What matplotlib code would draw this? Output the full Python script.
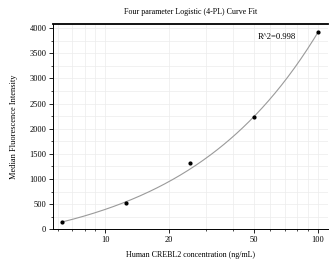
"""
plot.py - 4-PL standard curve for Human CREBL2 (median fluorescence vs concentration).
"""

import numpy as np
import matplotlib
matplotlib.use("Agg")
import matplotlib.pyplot as plt
from matplotlib.ticker import FixedLocator, NullFormatter, MultipleLocator

# ---------------------------------------------------------------------------
# Data
# ---------------------------------------------------------------------------
conc_ng_ml = [6.25, 12.5, 25, 50, 100]
median_fi = [145, 530, 1327, 2243, 3920]
r_squared = 0.998

# 4-PL parameters, estimated from the drawn curve
# y = d + (a - d) / (1 + (x / c)^b)
fit_a = -513.0
fit_b = 0.69
fit_c = 1.0e5
fit_d = 523000.0

x_major = [10, 20, 50, 100]
x_minor = [6, 7, 8, 9, 30, 40, 60, 70, 80, 90]


def four_pl(x, a, b, c, d):
    return d + (a - d) / (1.0 + (x / c) ** b)


# ---------------------------------------------------------------------------
# Plot
# ---------------------------------------------------------------------------
plt.rcParams['font.family'] = ['Liberation Serif', 'DejaVu Serif']

fig = plt.figure(figsize=(3.29, 2.66), dpi=100)
ax = fig.add_axes([0.162, 0.138, 0.835, 0.772])

xs = np.logspace(np.log10(min(conc_ng_ml)), np.log10(max(conc_ng_ml)), 200)
ax.plot(xs, four_pl(xs, fit_a, fit_b, fit_c, fit_d), color='#9a9a9a', lw=0.8, zorder=2)
ax.scatter(conc_ng_ml, median_fi, s=4, color='black', zorder=3)

ax.set_xscale('log')
ax.set_xlim(5.7, 112)
ax.set_ylim(0, 4085)

ax.xaxis.set_major_locator(FixedLocator(x_major))
ax.xaxis.set_minor_locator(FixedLocator(x_minor))
ax.xaxis.set_minor_formatter(NullFormatter())
ax.set_xticklabels([str(v) for v in x_major])
ax.yaxis.set_major_locator(MultipleLocator(500))
ax.yaxis.set_minor_locator(MultipleLocator(250))

ax.tick_params(axis='both', which='major', labelsize=6, length=3, width=0.6,
               direction='out', pad=2)
ax.tick_params(axis='both', which='minor', length=1.5, width=0.5, direction='out')

ax.grid(True, which='both', color='#ececec', lw=0.5, zorder=0)
ax.set_axisbelow(True)

ax.spines['right'].set_visible(False)
ax.spines['top'].set_linewidth(1.3)
ax.spines['left'].set_linewidth(0.7)
ax.spines['bottom'].set_linewidth(0.7)

ax.set_title("Four parameter Logistic (4-PL) Curve Fit", fontsize=5.8, pad=7)
ax.set_xlabel("Human CREBL2 concentration (ng/mL)", fontsize=5.8, labelpad=5)
ax.set_ylabel("Median Fluorescence Intensity", fontsize=6, labelpad=8)
ax.text(0.745, 0.935, f"R^2={r_squared}", transform=ax.transAxes,
        fontsize=6.2, va='center', ha='left')

fig.savefig("out.png", dpi=100)
